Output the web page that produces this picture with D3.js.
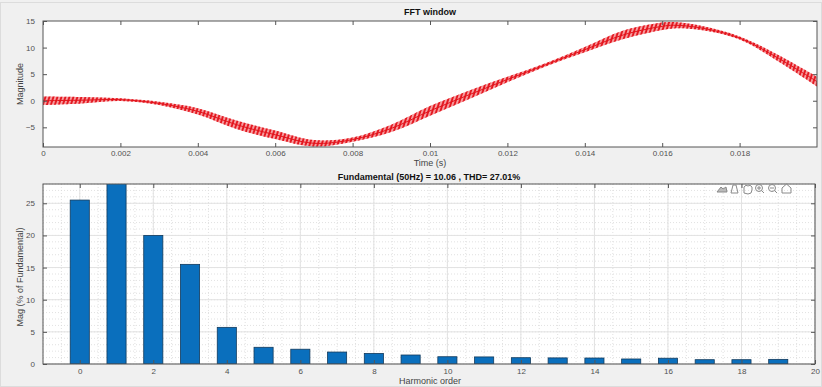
<!DOCTYPE html>
<html>
<head>
<meta charset="utf-8">
<script src="https://cdn.jsdelivr.net/npm/d3@7"></script>
<style>
  body { margin: 0; background: #f0f0f0; }
  svg { display: block; font-family: "Liberation Sans", Arial, sans-serif; }
</style>
</head>
<body>
<svg id="chart"></svg>
<script>
// ---- data ----
var timeS = [0, 0.001, 0.002, 0.003, 0.004, 0.005, 0.006, 0.007, 0.008, 0.009, 0.010,
             0.011, 0.012, 0.013, 0.014, 0.015, 0.016, 0.0163, 0.017, 0.018, 0.019, 0.020];
var signalMid = [0.0, 0.1, 0.2, -0.5, -2.0, -4.5, -6.4, -8.0, -7.3, -5.2, -1.9,
                 1.1, 4.0, 6.8, 9.6, 12.4, 14.0, 14.2, 13.7, 11.8, 8.0, 3.6];
var ripple = [0.8, 0.6, 0.25, 0.3, 0.6, 0.8, 0.8, 0.6, 0.4, 0.7, 0.9,
              0.8, 0.5, 0.3, 0.5, 0.8, 0.7, 0.6, 0.4, 0.3, 0.6, 0.9];
var timeTicks = [0, 0.002, 0.004, 0.006, 0.008, 0.01, 0.012, 0.014, 0.016, 0.018];
var magTicks = [-5, 0, 5, 10, 15];

var harmonics = d3.range(0, 20);
var harmMag = [25.5, 30, 20.0, 15.5, 5.7, 2.6, 2.3, 1.86, 1.65, 1.4,
               1.13, 1.1, 0.98, 0.95, 0.93, 0.78, 0.9, 0.67, 0.67, 0.72];
var harmTicks = [0, 2, 4, 6, 8, 10, 12, 14, 16, 18, 20];
var pctTicks = [0, 5, 10, 15, 20, 25];

var W = 822, H = 387;
var svg = d3.select("#chart").attr("width", W).attr("height", H);

svg.append("rect").attr("x", 0.5).attr("y", 2.5).attr("width", W - 1).attr("height", H - 3)
  .attr("fill", "#f0f0f0").attr("stroke", "#dcdcdc");

var tickCol = "#505050", frameCol = "#555";

function frame(g, x0, x1, y0, y1) {
  g.append("rect").attr("x", x0).attr("y", y0).attr("width", x1 - x0).attr("height", y1 - y0)
    .attr("fill", "none").attr("stroke", frameCol).attr("stroke-width", 1);
}

// ================= top: FFT window =================
var box1 = {left: 43, right: 817, top: 21, bottom: 147};
var x1 = d3.scaleLinear().domain([0, 0.02]).range([box1.left, box1.right]);
var y1 = d3.scaleLinear().domain([-8.7, 15]).range([box1.bottom, box1.top]);

var g1 = svg.append("g");
g1.append("rect").attr("x", box1.left).attr("y", box1.top)
  .attr("width", box1.right - box1.left).attr("height", box1.bottom - box1.top).attr("fill", "#fff");

var defs = svg.append("defs");
var pat = defs.append("pattern").attr("id", "rip").attr("patternUnits", "userSpaceOnUse")
  .attr("width", 3.8).attr("height", 10).attr("patternTransform", "rotate(18)");
pat.append("line").attr("x1", 1).attr("x2", 1).attr("y1", 0).attr("y2", 10)
  .attr("stroke", "#e3131b").attr("stroke-width", 1.8);
defs.append("clipPath").attr("id", "clipTop").append("rect")
  .attr("x", box1.left).attr("y", box1.top).attr("width", box1.right - box1.left).attr("height", box1.bottom - box1.top);

var sig = timeS.map(function(t, i) { return {t: t, m: signalMid[i], r: ripple[i]}; });
var band = d3.area().curve(d3.curveCatmullRom)
  .x(function(d) { return x1(d.t); })
  .y0(function(d) { return y1(d.m - d.r); })
  .y1(function(d) { return y1(d.m + d.r); });
var mid = d3.line().curve(d3.curveCatmullRom)
  .x(function(d) { return x1(d.t); })
  .y(function(d) { return y1(d.m); });

var sg = g1.append("g").attr("clip-path", "url(#clipTop)");
sg.append("path").datum(sig).attr("d", band).attr("fill", "#ee3a40").attr("fill-opacity", 0.5);
sg.append("path").datum(sig).attr("d", band).attr("fill", "url(#rip)");
sg.append("path").datum(sig).attr("d", mid).attr("fill", "none")
  .attr("stroke", "#e3131b").attr("stroke-width", 1);

// axes
var axB1 = g1.append("g").attr("transform", "translate(0," + box1.bottom + ")")
  .call(d3.axisBottom(x1).tickValues(timeTicks).tickSizeInner(-4).tickSizeOuter(0)
    .tickPadding(3).tickFormat(function(d) { return d3.format("~g")(d); }));
var axT1 = g1.append("g").attr("transform", "translate(0," + box1.top + ")")
  .call(d3.axisTop(x1).tickValues(timeTicks).tickSizeInner(-4).tickSizeOuter(0).tickFormat(""));
var axL1 = g1.append("g").attr("transform", "translate(" + box1.left + ",0)")
  .call(d3.axisLeft(y1).tickValues(magTicks).tickSizeInner(-4).tickSizeOuter(0).tickPadding(8));
var axR1 = g1.append("g").attr("transform", "translate(" + box1.right + ",0)")
  .call(d3.axisRight(y1).tickValues(magTicks).tickSizeInner(-4).tickSizeOuter(0).tickFormat(""));
[axB1, axT1, axL1, axR1].forEach(function(a) {
  a.select(".domain").remove();
  a.selectAll("line").attr("stroke", frameCol);
  a.selectAll("text").attr("fill", tickCol).style("font-size", "8px");
});
frame(g1, box1.left, box1.right, box1.top, box1.bottom);

g1.append("text").attr("x", 430).attr("y", 15).attr("text-anchor", "middle")
  .style("font-size", "9px").style("font-weight", "bold").attr("fill", "#111").text("FFT window");
g1.append("text").attr("x", 430).attr("y", 166).attr("text-anchor", "middle")
  .style("font-size", "9px").attr("fill", "#444").text("Time (s)");
g1.append("text").attr("transform", "translate(23," + 84 + ") rotate(-90)").attr("text-anchor", "middle")
  .style("font-size", "9px").attr("fill", "#444").text("Magnitude");

// ================= bottom: harmonic spectrum =================
var box2 = {left: 43, right: 815, top: 184, bottom: 364};
var x2 = d3.scaleLinear().domain([-1, 20]).range([box2.left, box2.right]);
var y2 = d3.scaleLinear().domain([0, 28]).range([box2.bottom, box2.top]);

var g2 = svg.append("g");
g2.append("rect").attr("x", box2.left).attr("y", box2.top)
  .attr("width", box2.right - box2.left).attr("height", box2.bottom - box2.top).attr("fill", "#fff");
defs.append("clipPath").attr("id", "clipBot").append("rect")
  .attr("x", box2.left).attr("y", box2.top).attr("width", box2.right - box2.left).attr("height", box2.bottom - box2.top);

// minor grid
var grid = g2.append("g");
grid.selectAll("line.mx").data(d3.range(-1, 20.01, 0.5)).enter().append("line")
  .attr("x1", function(d) { return x2(d); }).attr("x2", function(d) { return x2(d); })
  .attr("y1", box2.top).attr("y2", box2.bottom)
  .attr("stroke", "#d9d9d9").attr("stroke-dasharray", "1,2").attr("stroke-width", 0.8);
grid.selectAll("line.my").data(d3.range(0, 28.01, 1)).enter().append("line")
  .attr("y1", function(d) { return y2(d); }).attr("y2", function(d) { return y2(d); })
  .attr("x1", box2.left).attr("x2", box2.right)
  .attr("stroke", "#d9d9d9").attr("stroke-dasharray", "1,2").attr("stroke-width", 0.8);
// major grid
grid.selectAll("line.gx").data(harmTicks).enter().append("line")
  .attr("x1", function(d) { return x2(d); }).attr("x2", function(d) { return x2(d); })
  .attr("y1", box2.top).attr("y2", box2.bottom).attr("stroke", "#e2e2e2");
grid.selectAll("line.gy").data(pctTicks).enter().append("line")
  .attr("y1", function(d) { return y2(d); }).attr("y2", function(d) { return y2(d); })
  .attr("x1", box2.left).attr("x2", box2.right).attr("stroke", "#e2e2e2");

var bw = 0.52;
g2.append("g").attr("clip-path", "url(#clipBot)").selectAll("rect.bar")
  .data(harmonics).enter().append("rect").attr("class", "bar")
  .attr("x", function(d) { return x2(d - bw / 2); })
  .attr("width", function(d) { return x2(bw) - x2(0); })
  .attr("y", function(d, i) { return y2(harmMag[i]); })
  .attr("height", function(d, i) { return y2(0) - y2(harmMag[i]); })
  .attr("fill", "#0a6fbd").attr("stroke", "#123a5c").attr("stroke-width", 0.8);

var axB2 = g2.append("g").attr("transform", "translate(0," + box2.bottom + ")")
  .call(d3.axisBottom(x2).tickValues(harmTicks).tickSizeInner(-4).tickSizeOuter(0).tickPadding(4));
var axT2 = g2.append("g").attr("transform", "translate(0," + box2.top + ")")
  .call(d3.axisTop(x2).tickValues(harmTicks).tickSizeInner(-4).tickSizeOuter(0).tickFormat(""));
var axL2 = g2.append("g").attr("transform", "translate(" + box2.left + ",0)")
  .call(d3.axisLeft(y2).tickValues(pctTicks).tickSizeInner(-4).tickSizeOuter(0).tickPadding(8));
var axR2 = g2.append("g").attr("transform", "translate(" + box2.right + ",0)")
  .call(d3.axisRight(y2).tickValues(pctTicks).tickSizeInner(-4).tickSizeOuter(0).tickFormat(""));
[axB2, axT2, axL2, axR2].forEach(function(a) {
  a.select(".domain").remove();
  a.selectAll("line").attr("stroke", frameCol);
  a.selectAll("text").attr("fill", tickCol).style("font-size", "8px");
});
frame(g2, box2.left, box2.right, box2.top, box2.bottom);

g2.append("text").attr("x", 429).attr("y", 180).attr("text-anchor", "middle")
  .style("font-size", "9px").style("font-weight", "bold").attr("fill", "#111")
  .text("Fundamental (50Hz) = 10.06 , THD= 27.01%");
g2.append("text").attr("x", 430).attr("y", 384).attr("text-anchor", "middle")
  .style("font-size", "9px").attr("fill", "#444").text("Harmonic order");
g2.append("text").attr("transform", "translate(23," + 277 + ") rotate(-90)").attr("text-anchor", "middle")
  .style("font-size", "9px").attr("fill", "#444").text("Mag (% of Fundamental)");

// axes toolbar (little gray icons)
var tb = g2.append("g").attr("fill", "none").attr("stroke", "#8a8a8a").attr("stroke-width", 1);
var ix = 722, iy = 189;
// brush
tb.append("path").attr("d", "M" + (ix - 5) + "," + (iy + 3) + " l4,-5 l2,2 l3,-2 l1,5 z").attr("fill", "#bbb");
// data tip
tb.append("path").attr("d", "M" + (ix + 9) + "," + (iy + 4) + " l2,-8 h3 l2,8 z");
// pan hand
tb.append("path").attr("d", "M" + (ix + 22) + "," + (iy + 4) + " v-6 q2,-3 4,-1 q2,-2 4,1 v3 q0,4 -4,4 z");
// zoom in / out
[37, 50].forEach(function(dx, k) {
  tb.append("circle").attr("cx", ix + dx).attr("cy", iy - 1).attr("r", 3.5);
  tb.append("line").attr("x1", ix + dx + 2.5).attr("y1", iy + 1.5).attr("x2", ix + dx + 5).attr("y2", iy + 4);
  tb.append("line").attr("x1", ix + dx - 2).attr("y1", iy - 1).attr("x2", ix + dx + 2).attr("y2", iy - 1);
  if (k == 0) tb.append("line").attr("x1", ix + dx).attr("y1", iy - 3).attr("x2", ix + dx).attr("y2", iy + 1);
});
// home
tb.append("path").attr("d", "M" + (ix + 60) + "," + (iy - 1) + " l4.5,-4 l4.5,4 v5 h-9 z");
</script>
</body>
</html>
